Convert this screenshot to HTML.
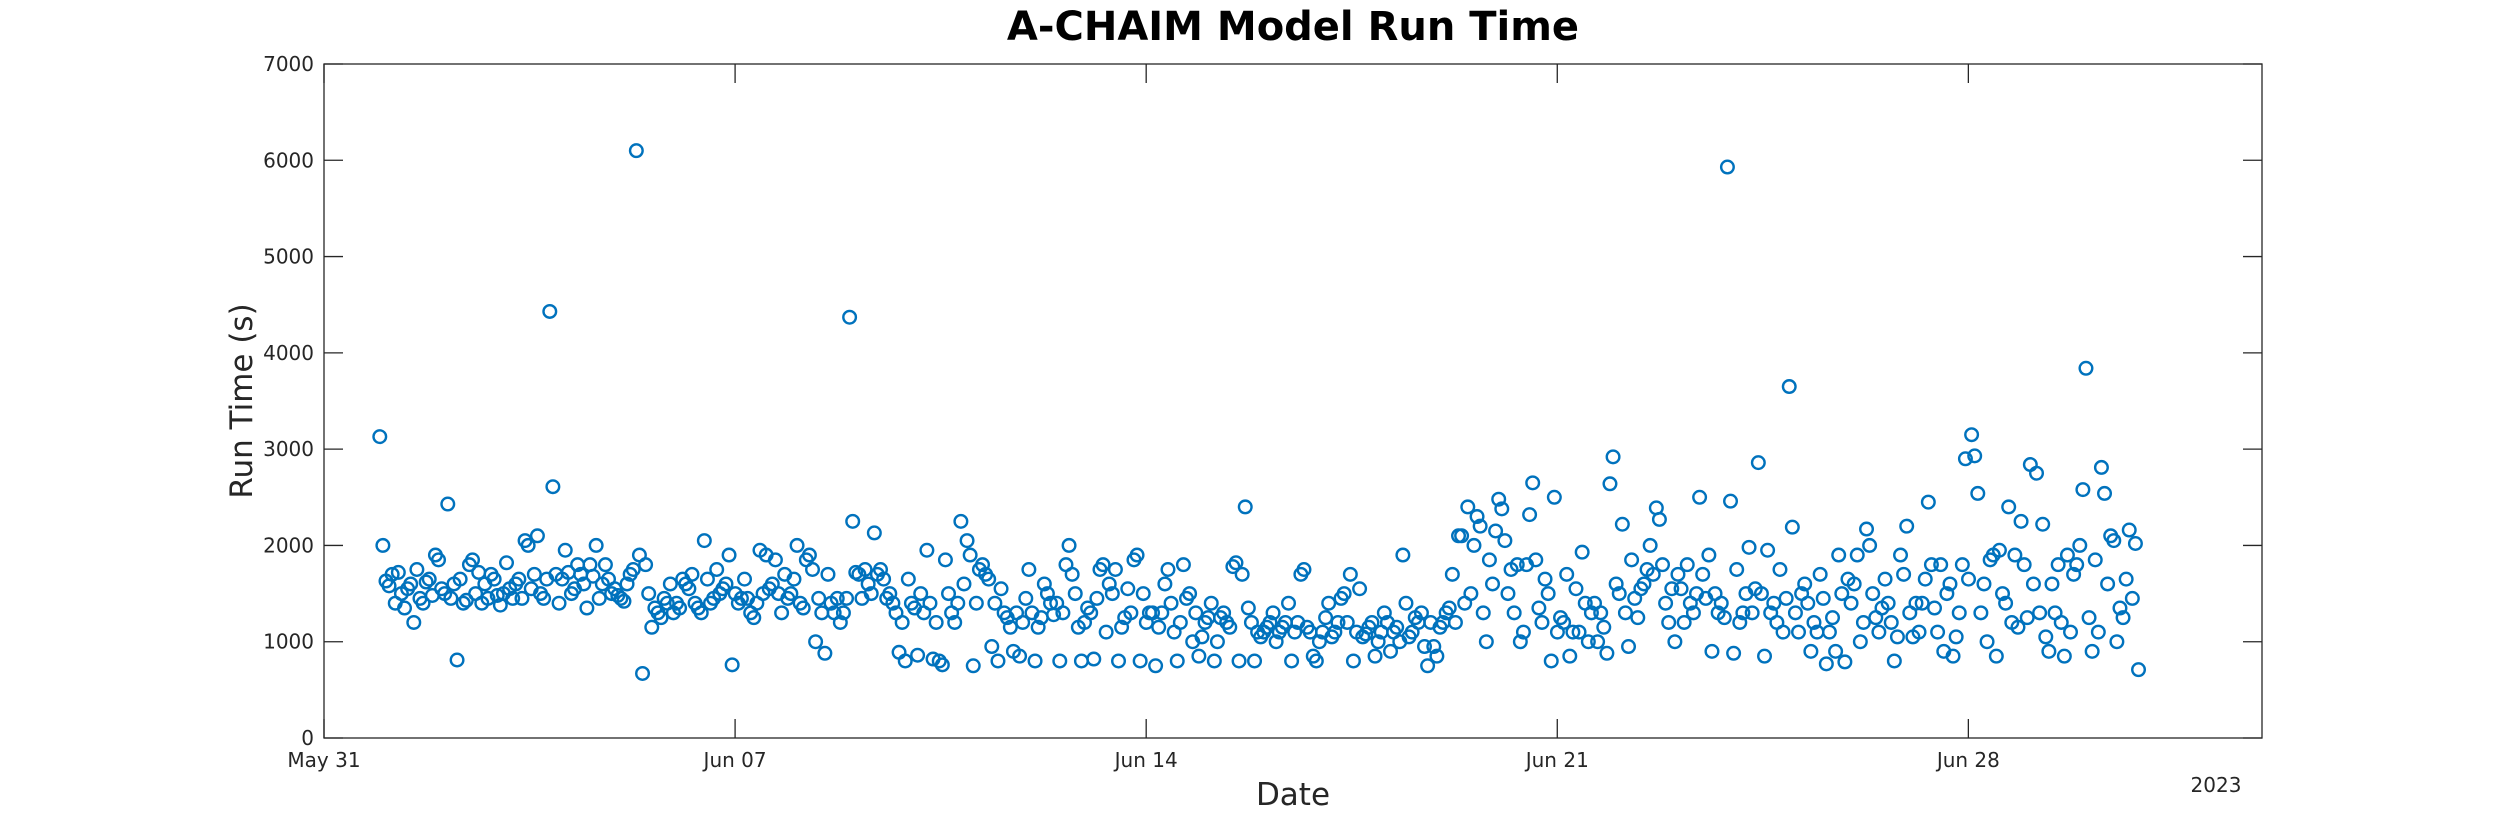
<!DOCTYPE html>
<html><head><meta charset="utf-8"><style>
body{margin:0;background:#fff;}
svg{display:block;font-family:"DejaVu Sans","Liberation Sans",sans-serif;}
</style></head><body>
<svg id="chart" width="2500" height="833" viewBox="0 0 2500 833" xmlns="http://www.w3.org/2000/svg">
<rect width="2500" height="833" fill="#fff"/>
<text x="1293" y="40" text-anchor="middle" font-size="40" font-weight="bold" fill="#000">A-CHAIM Model Run Time</text>
<g id="axes"></g>
<g id="marks"></g>
<text x="1293" y="805" text-anchor="middle" font-size="31" fill="#262626">Date</text>
<text transform="translate(252,401) rotate(-90)" text-anchor="middle" font-size="31" fill="#262626">Run Time (s)</text>
<text x="2216" y="792" text-anchor="middle" font-size="20" fill="#262626">2023</text>
</svg>
<script>
const yTicks = [0,1000,2000,3000,4000,5000,6000,7000];
const xTickDays = [0,7,14,21,28];
const xTickLabels = ["May 31","Jun 07","Jun 14","Jun 21","Jun 28"];
const firstDayOffset = 0.95;
// run times (tens of seconds) grouped per day, starting May 31 + 0.95 days
const day00 = [313,200,163,158,170,140,172,150,135,155,160,120,175,145,140,162,165,148,190];
const day01 = [185,155,150,243,145,160,81,165,140,143,180,185,150,172,140,160,145,170,165];
const day02 = [148,138,150,182,155,145,160,165,145,205,200,155,170,210,150,145,165,443,261];
const day03 = [170,140,165,195,172,150,155,180,170,160,135,180,168,200,145,160,180,165,150];
const day04 = [155,148,145,142,160,170,175,610,190,67,180,150,115,135,130,125,145,140,160];
const day05 = [130,140,135,165,160,155,170,140,135,130,205,165,140,145,175,150,155,160,190];
const day06 = [76,150,140,145,165,145,130,125,140,195,150,190,155,160,185,150,130,170,145];
const day07 = [150,165,200,140,135,185,190,175,100,145,130,88,170,140,130,145,120,130,145];
const day08 = [437,225,172,170,145,175,160,150,213,170,175,165,145,150,140,130,89,120,80];
const day09 = [165,140,135,86,150,130,195,140,82,120,80,76,185,150,130,120,140,225,160];
const day10 = [205,190,75,140,175,180,170,165,95,140,80,155,130,125,115,90,130,85,120];
const day11 = [145,175,130,80,115,125,160,150,140,128,140,80,130,180,200,170,150,115,80];
const day12 = [120,135,130,82,145,175,180,110,160,150,175,80,115,125,155,130,185,190,80];
const day13 = [150,120,130,130,75,115,130,160,175,140,110,80,120,180,145,150,100,130,85];
const day14 = [105,120,125,140,80,100,125,130,120,115,178,182,80,170,240,135,120,80,110];
const day15 = [105,110,115,120,130,100,110,115,120,140,80,110,120,170,175,115,110,85,80];
const day16 = [100,110,125,140,105,110,120,145,150,120,170,80,110,155,105,108,115,120,85];
const day17 = [100,110,130,120,90,110,115,100,190,140,105,110,125,120,130,95,75,120,95];
const day18 = [85,115,120,130,135,170,120,210,210,140,240,150,200,230,220,130,100,185,160];
const day19 = [215,248,238,205,150,175,130,180,100,110,180,232,265,185,135,120,165,150,80];
const day20 = [250,110,125,120,170,85,110,155,110,193,140,100,130,140,100,130,115,88,264];
const day21 = [292,160,150,222,130,95,185,145,125,155,160,175,200,170,239,227,180,140,120];
const day22 = [155,100,170,155,120,180,140,130,150,250,170,145,190,90,150,130,140,125,593];
const day23 = [246,88,175,120,130,150,198,130,155,286,150,85,195,130,140,120,175,110,145];
const day24 = [365,219,130,110,150,160,140,90,120,110,170,145,77,110,125,90,190,150,79];
const day25 = [165,140,160,190,100,120,217,200,150,125,110,135,165,140,120,80,105,190,170];
const day26 = [220,130,105,140,110,140,165,245,180,135,110,180,90,150,160,85,105,130,180];
const day27 = [290,165,315,293,254,130,160,100,185,190,85,195,150,140,240,120,190,115,225];
const day28 = [180,125,284,160,275,130,222,105,90,160,130,180,120,85,190,110,170,180,200];
const day29 = [258,384,125,90,185,110,281,254,160,210,205,100,135,125,165,216,145,202,71];
const dayGroups = [day00,day01,day02,day03,day04,day05,day06,day07,day08,day09,day10,day11,day12,day13,day14,day15,day16,day17,day18,day19,day20,day21,day22,day23,day24,day25,day26,day27,day28,day29];

const NS = "http://www.w3.org/2000/svg";
const L = 324, R = 2262, T = 64, B = 738;
const xMax = 33, yMax = 7000;
function xScale(d){ return L + d / xMax * (R - L); }
function yScale(v){ return B - v / yMax * (B - T); }
const axes = document.getElementById('axes');
const marks = document.getElementById('marks');
function mk(tag, attrs, parent){ const e = document.createElementNS(NS, tag); for (const k in attrs) e.setAttribute(k, attrs[k]); parent.appendChild(e); return e; }

const box = mk('rect', {x:L, y:T, width:R-L, height:B-T, fill:'none', stroke:'#262626', 'stroke-width':1.3}, axes);



yTicks.forEach(v => {
  const y = yScale(v);
  const t1 = mk('line', {x1:L, x2:L+19, y1:y, y2:y, stroke:'#262626', 'stroke-width':1.3}, axes);
  
  
  const t2 = mk('line', {x1:R, x2:R-19, y1:y, y2:y, stroke:'#262626', 'stroke-width':1.3}, axes);
  
  
  const lb = mk('text', {x:L-10, y:y+7, 'text-anchor':'end', 'font-size':20, fill:'#262626'}, axes);
  lb.textContent = v;
  
  
});
xTickDays.forEach((d, i) => {
  const x = xScale(d);
  const t1 = mk('line', {x1:x, x2:x, y1:B, y2:B-19, stroke:'#262626', 'stroke-width':1.3}, axes);
  
  
  const t2 = mk('line', {x1:x, x2:x, y1:T, y2:T+19, stroke:'#262626', 'stroke-width':1.3}, axes);
  
  
  const lb = mk('text', {x:x, y:B+29, 'text-anchor':'middle', 'font-size':20, fill:'#262626'}, axes);
  lb.textContent = xTickLabels[i];
  
  
});

dayGroups.forEach((vals, k) => {
  vals.forEach((v, j) => {
    const d = firstDayOffset + k + j / 19;
    const c = mk('circle', {cx:xScale(d), cy:yScale(v*10), r:6.3, fill:'none', stroke:'#0072BD', 'stroke-width':2.4}, marks);
    
    
  });
});
</script>
</body></html>
